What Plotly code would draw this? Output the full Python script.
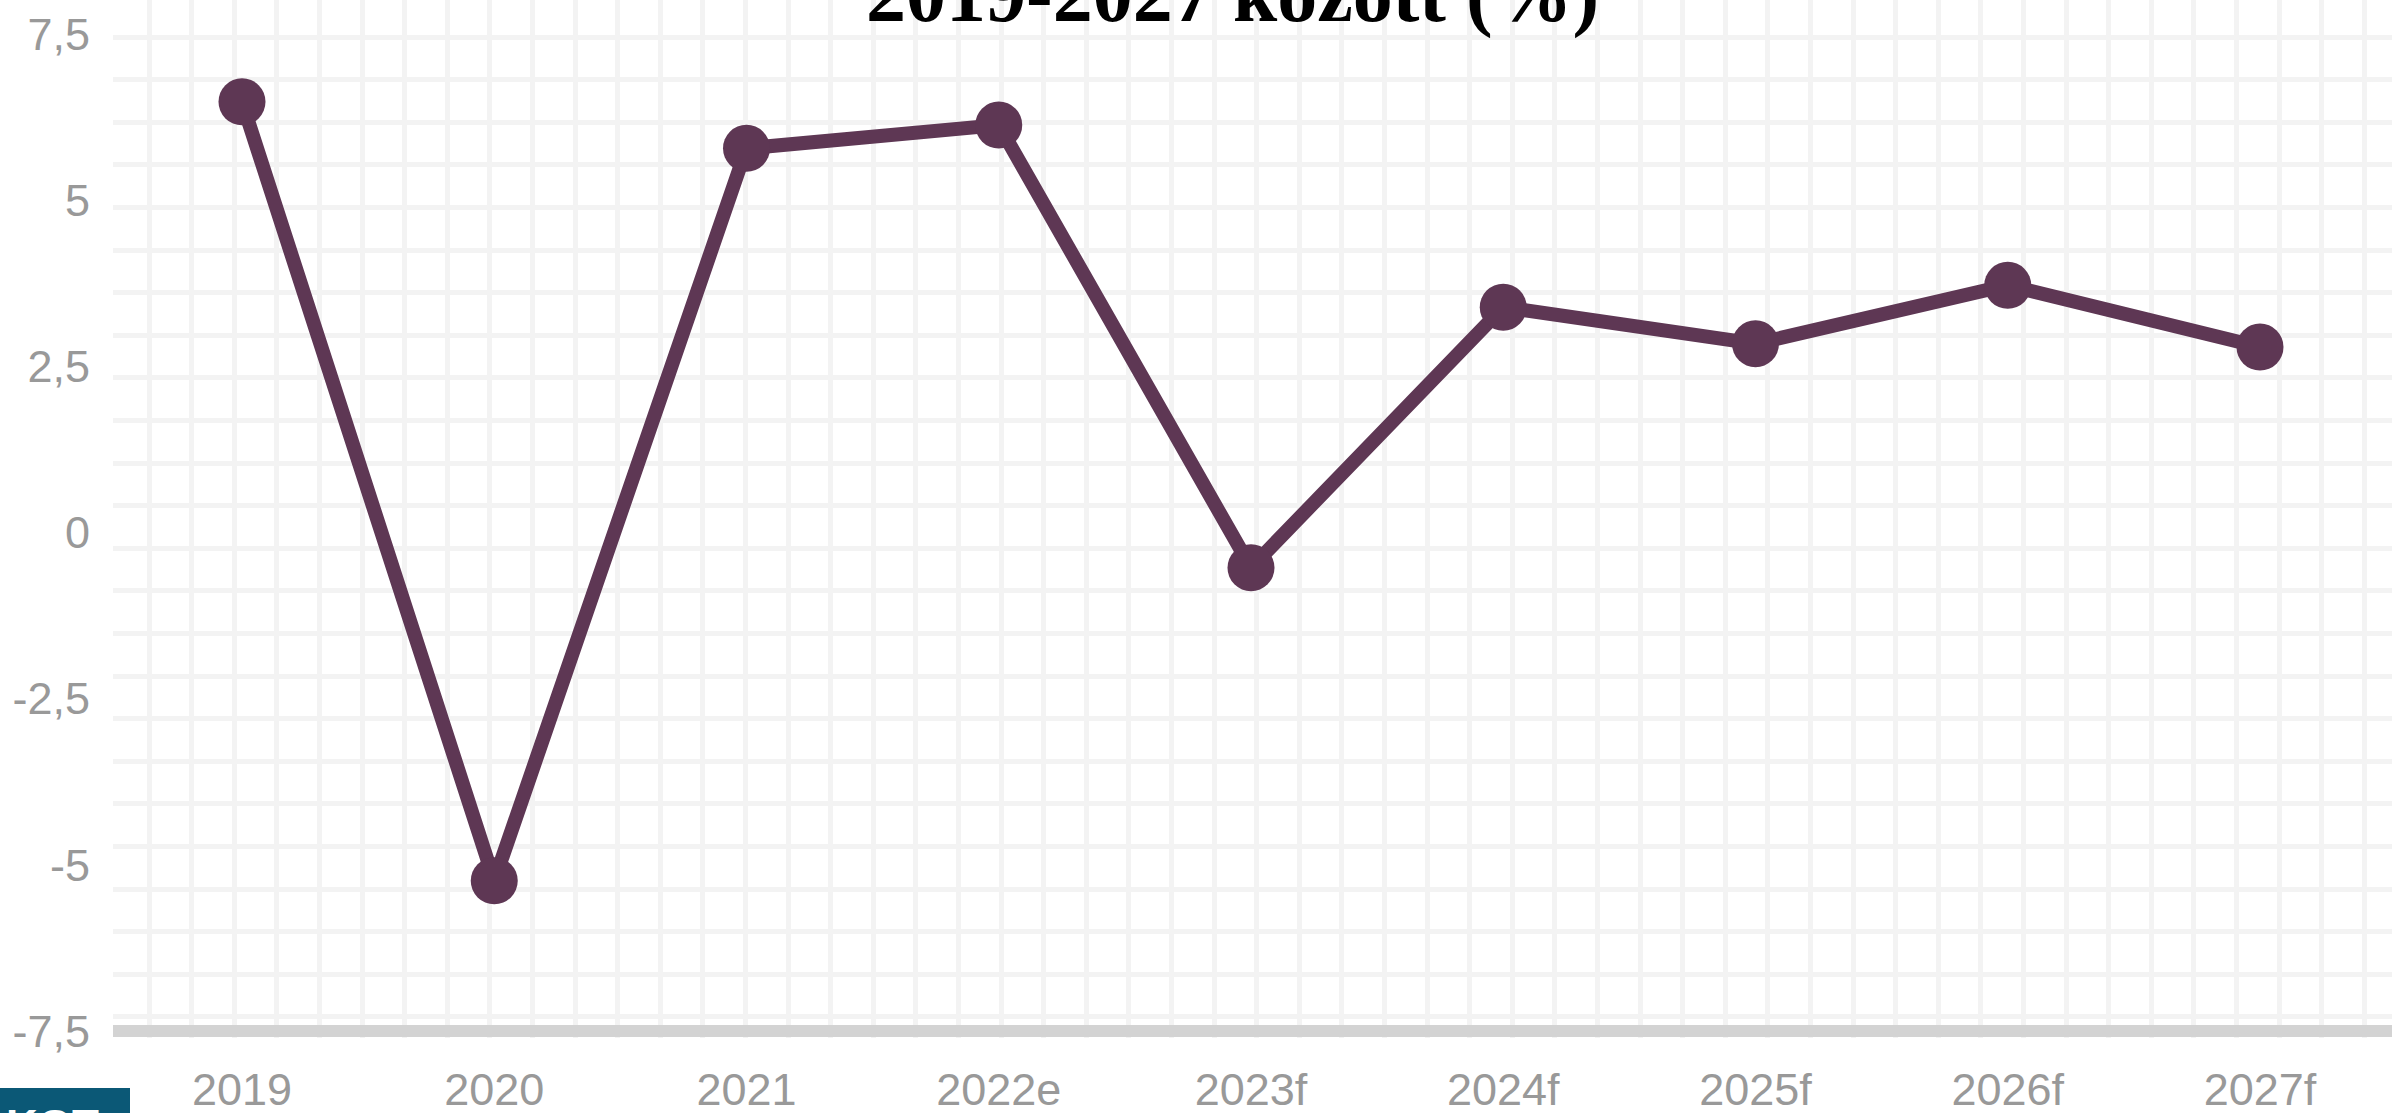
import plotly.graph_objects as go

# ---- data ----
years = ["2019", "2020", "2021", "2022e", "2023f", "2024f", "2025f", "2026f", "2027f"]
growth = [6.48, -5.24, 5.78, 6.13, -0.53, 3.39, 2.84, 3.72, 2.79]
y_tickvals = [7.5, 5, 2.5, 0, -2.5, -5, -7.5]
y_ticktext = ["7,5", "5", "2,5", "0", "-2,5", "-5", "-7,5"]
title_text = "2019-2027 között (%)"
logo_text = "KGT"

# ---- layout constants (pixels) ----
W, H = 2392, 1113
L, B = 113, 75
PW, PH = W - L, H - B          # plot area size
px_per_unit = 66.47
y_top = 7.5 + 34 / px_per_unit
y_bot = y_top - PH / px_per_unit
cat_step = 252.25
x_first = 242 - L
x_lo = -x_first / cat_step
x_hi = (PW - x_first) / cat_step

LINE_COLOR = "#5e3754"
GRID_COLOR = "#f3f3f3"
TICK_COLOR = "#999999"
FONT = "Liberation Sans, Arial, sans-serif"

fig = go.Figure()

# invisible trace to create the decorative grid subplot
fig.add_trace(go.Scatter(x=[], y=[], xaxis="x2", yaxis="y2", showlegend=False, hoverinfo="skip"))

fig.add_trace(go.Scatter(
    x=years, y=growth, mode="lines+markers",
    line=dict(color=LINE_COLOR, width=14),
    marker=dict(color=LINE_COLOR, size=47),
    showlegend=False,
))

fig.update_layout(
    width=W, height=H,
    margin=dict(l=L, r=0, t=0, b=B, autoexpand=False),
    paper_bgcolor="white", plot_bgcolor="white",
    showlegend=False,
    xaxis=dict(
        type="category", range=[x_lo, x_hi],
        showgrid=False, zeroline=False, showline=False,
        ticks="", tickfont=dict(family=FONT, size=45, color=TICK_COLOR),
        ticklabelstandoff=21, automargin=False,
    ),
    yaxis=dict(
        range=[y_bot, y_top],
        tickvals=y_tickvals, ticktext=y_ticktext,
        showgrid=False, zeroline=False, showline=False,
        ticks="", tickfont=dict(family=FONT, size=45, color=TICK_COLOR),
        ticklabelstandoff=22, automargin=False,
    ),
    xaxis2=dict(
        overlaying="x", range=[0, PW], tick0=149 - L, dtick=42.6,
        showgrid=True, gridcolor=GRID_COLOR, gridwidth=5,
        showticklabels=False, zeroline=False, showline=False, ticks="",
    ),
    yaxis2=dict(
        overlaying="y", range=[PH, 0], tick0=37, dtick=42.6,
        showgrid=True, gridcolor=GRID_COLOR, gridwidth=5,
        showticklabels=False, zeroline=False, showline=False, ticks="",
    ),
)

# thick baseline at -7,5
fig.add_shape(type="line", xref="paper", yref="y", x0=0, x1=1, y0=-7.5, y1=-7.5,
              line=dict(color="#d3d3d3", width=12), layer="above")

# title, mostly cut off at the top
fig.add_annotation(
    text=title_text, xref="paper", yref="paper",
    x=(1232 - L) / PW, y=1 - 41 / PH, xanchor="center", yanchor="bottom",
    showarrow=False,
    font=dict(family="Liberation Serif, Times New Roman, serif", size=80, color="black", weight="bold"),
)

# logo box bottom-left
fig.add_shape(type="rect", xref="paper", yref="paper",
              x0=(0 - L) / PW, x1=(130 - L) / PW,
              y0=1 - 1125 / PH, y1=1 - 1088 / PH,
              fillcolor="#0b5876", line=dict(width=0), layer="above")
fig.add_annotation(
    text=logo_text, xref="paper", yref="paper",
    x=(52 - L) / PW, y=1 - 1099 / PH, xanchor="center", yanchor="top",
    showarrow=False,
    font=dict(family="Liberation Sans, Arial, sans-serif", size=44, color="white", weight="bold"),
)

fig.write_html(
    "out.html",
    config={"displayModeBar": False},
    post_script="document.body.style.margin='0';document.body.style.overflow='hidden';",
)
